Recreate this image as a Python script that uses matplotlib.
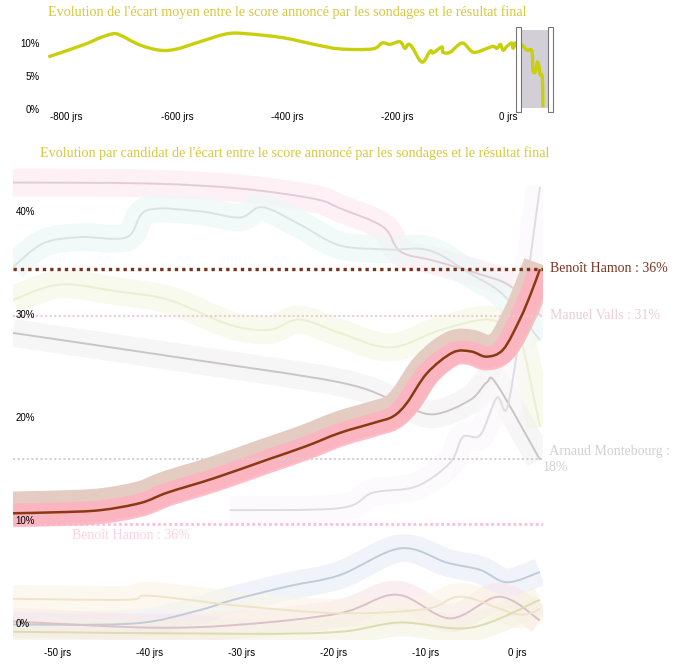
import numpy as np
import matplotlib
matplotlib.use("Agg")
import matplotlib.pyplot as plt
from matplotlib.path import Path
from matplotlib.patches import PathPatch

W, H = 680, 665

# ---- top chart : mean gap (%) vs days before the vote
top_days = [-833, -770, -739, -716, -703, -667, -630, -600, -558, -509, -473, -408, -346,
            -304, -246, -228, -214, -196, -187, -181, -174, -156, -141, -136, -120, -118,
            -105, -83, -63, -38, -27, -20, -14, -9, -2, 7, 9, 13, 18, 25, 34, 43, 45, 49,
            53, 56, 58, 62, 63]
top_gap = [7.9, 9.7, 10.8, 11.4, 11.2, 9.7, 8.9, 9.1, 10.2, 11.4, 11.4, 10.8, 9.7,
           9.1, 9.1, 10.0, 9.8, 10.2, 9.2, 9.8, 9.4, 7.1, 8.8, 8.5, 9.4, 8.6,
           8.6, 10.0, 8.6, 9.2, 9.5, 9.2, 9.8, 8.9, 9.5, 10.0, 9.2, 10.0, 9.4, 9.7, 8.9, 8.8, 5.9, 5.6,
           7.1, 6.4, 5.2, 4.8, 0.3]
top_xticks = [-800, -600, -400, -200, 0]
top_yticks = [0, 5, 10]
brush = (24, 74)

# ---- bottom chart : score per candidate
hamon_d = [-54.9, -50, -45.4, -41, -38.1, -33, -27.2, -23, -19.3, -15.5, -13.5, -12.0, -9.8, -7.0,
           -5, -3.3, -1.5, 0.3, 1.5, 2.5]
hamon_v = [12.3, 12.4, 12.6, 13.3, 14.3, 15.7, 17.5, 18.8, 20.1, 21.1, 21.7, 23.0, 25.9, 27.9,
           28.0, 27.5, 28.2, 31.1, 33.6, 36.0]

valls_d = [-54.9, -40, -30, -22, -19.3, -14.6, -12.7, -9, -3.3, -1, 1.1, 2.5]
valls_v = [44.4, 44.3, 43.8, 42.8, 41.9, 40.1, 37.7, 36.8, 35.3, 34.5, 33.0, 31.5]

monte_d = [-54.9, -36.7, -19.3, -13.1, -9.2, -5.1, -3.3, -2.2, 2.5]
monte_v = [29.8, 27.4, 25.0, 23.1, 21.9, 23.3, 25.0, 24.8, 17.5]

teal_d = [-54.9, -51.6, -47.6, -42.5, -40.3, -34.5, -30.2, -27.7, -23.6, -19.3, -14, -9.5, -5, -1.5, 2.5]
teal_v = [36.2, 38.5, 39.1, 39.1, 41.7, 41.6, 41.0, 42.0, 40.3, 38.3, 37.9, 37.8, 35.5, 33.5, 29.1]

green_d = [-54.9, -49.8, -43.3, -37.9, -31.3, -27.0, -23.7, -19.3, -13.8, -8.3, -3.3, -0.4, 0.3, 2.5]
green_v = [33.0, 34.5, 33.8, 33.0, 30.6, 30.1, 31.1, 29.8, 28.4, 30.1, 31.1, 30.1, 29.8, 20.7]

grey_d = [-31.3, -19.3, -15.7, -11.0, -7.3, -5.9, -4.0, -2.2, -1.1, 0.3, 2.5]
grey_v = [12.6, 12.8, 14.3, 14.9, 17.2, 19.7, 19.9, 23.5, 22.5, 29.8, 44.0]

blue_d = [-54.9, -41.8, -35, -30.9, -25, -19.3, -12.7, -7.6, -4.0, -1.1, 2.5]
blue_v = [1.5, 1.6, 2.8, 3.9, 5.2, 6.3, 8.9, 7.5, 6.8, 5.6, 6.6]

mauve_d = [-54.9, -40, -30, -19.3, -13.1, -7.3, -1.9, 2.5]
mauve_v = [1.8, 1.2, 1.5, 2.6, 4.4, 2.1, 4.2, 1.9]

tan_d = [-54.9, -42.5, -40, -30, -19.3, -10, -6, 0, 2.5]
tan_v = [4.0, 3.9, 4.3, 3.3, 2.6, 3.0, 4.2, 2.5, 3.0]

olive_d = [-54.9, -30, -19.3, -12.7, -5, 2.5]
olive_v = [0.8, 0.6, 0.8, 1.7, 1.2, 3.9]

bot_xticks = [-50, -40, -30, -20, -10, 0]
bot_yticks = [0, 10, 20, 30, 40]

final_names = ["Benoît Hamon : 36%", "Manuel Valls : 31%", "Arnaud Montebourg :\n18%"]
final_vals = [36.03, 31.48, 17.52]
final_cols = ["#7a3320", "#ecccd6", "#d4d0d2"]


def box(x0, y0, x1, y1):
    return [x0 / W, 1 - y1 / H, (x1 - x0) / W, (y1 - y0) / H]


def smooth(x, y):
    # catmull-rom through the points, drawn as bezier segments
    x = np.asarray(x, float)
    y = np.asarray(y, float)
    n = len(x)
    verts = [(x[0], y[0])]
    codes = [Path.MOVETO]
    for i in range(n - 1):
        j0 = max(i - 1, 0)
        j3 = min(i + 2, n - 1)
        c1 = (x[i] + (x[i + 1] - x[j0]) / 6, y[i] + (y[i + 1] - y[j0]) / 6)
        c2 = (x[i + 1] - (x[j3] - x[i]) / 6, y[i + 1] - (y[j3] - y[i]) / 6)
        verts += [c1, c2, (x[i + 1], y[i + 1])]
        codes += [Path.CURVE4] * 3
    return Path(verts, codes)


def curve(ax, x, y, color, lw, alpha=1.0, z=2):
    ax.add_patch(PathPatch(smooth(x, y), fill=False, edgecolor=color, lw=lw, alpha=alpha,
                           capstyle="butt", joinstyle="round", zorder=z))


fig = plt.figure(figsize=(W / 100, H / 100), dpi=100)
serif = ["Liberation Serif", "DejaVu Serif"]
sans = ["Liberation Sans", "DejaVu Sans"]

# ================= top chart
ax1 = fig.add_axes(box(40, 24, 560, 112))
curve(ax1, top_days, top_gap, "#c8d00c", 2.4, z=3)
ax1.add_patch(plt.Rectangle((brush[0], 0.15), brush[1] - brush[0], 11.8,
                            facecolor="#d2cfd6", edgecolor="none", zorder=1))
for hx in (14.5, brush[1] - 2):
    ax1.add_patch(plt.Rectangle((hx, -0.4), 9.5, 12.9, facecolor="white",
                                edgecolor="#777777", lw=0.8, zorder=4, clip_on=False))
ax1.set_xlim(-848, 94)
ax1.set_ylim(-0.45, 12.88)
ax1.set_xticks(top_xticks)
ax1.set_xticklabels([f"{t} jrs" for t in top_xticks], family=sans, fontsize=7)
ax1.set_yticks(top_yticks)
ax1.set_yticklabels([f"{t}%" for t in top_yticks], family=sans, fontsize=7)
ax1.tick_params(length=0, pad=0)
for s in ax1.spines.values():
    s.set_visible(False)
fig.text(48 / W, 1 - 12 / H, "Evolution de l'écart moyen entre le score annoncé par les sondages et le résultat final",
         family=serif, fontsize=10.2, color="#d6c83c", va="center", ha="left")

# ================= bottom chart
ax2 = fig.add_axes(box(13, 165, 543, 640))
ax2.set_xlim(-54.9, 2.83)
ax2.set_ylim(0, 46.1)

# faded candidates : (days, values, line colour, band colour)
others = [
    (valls_d, valls_v, "#e4ccd6", "#fde8f0"),
    (teal_d, teal_v, "#dce2e2", "#eaf8f6"),
    (green_d, green_v, "#eaf0d0", "#f3f8e0"),
    (monte_d, monte_v, "#cac6c8", "#f3f1f1"),
    (grey_d, grey_v, "#e0dce0", "#fbf8fb"),
    (blue_d, blue_v, "#c2cbd8", "#e6eef7"),
    (mauve_d, mauve_v, "#dcc0ca", "#f8e4e8"),
    (tan_d, tan_v, "#f0e4c8", "#fbf4e6"),
    (olive_d, olive_v, "#dcdcb0", "#f4f2e0"),
]
for d, v, lc, bc in others:
    curve(ax2, d, v, bc, 20, alpha=0.6, z=1)
for d, v, lc, bc in others:
    curve(ax2, d, v, lc, 1.4, z=2)

# ghost pink dotted line and label left over from the transition
ax2.axhline(11.3, color="#ffbcd8", lw=2, ls=(0, (1, 1)), zorder=1)
ax2.text(-48.5, 10.1, "Benoît Hamon : 36%", family=serif, fontsize=10, color="#ffd0e2", va="center")

# highlighted candidate
curve(ax2, hamon_d, np.array(hamon_v) + 0.5, "#e4ccc2", 24, z=3)
curve(ax2, hamon_d, np.array(hamon_v) - 0.2, "#ffb2c0", 17, alpha=0.85, z=3)
curve(ax2, hamon_d, hamon_v, "#8a3a12", 1.8, z=5)

# final results
for name, val, col, lw in zip(final_names, final_vals, final_cols, [2.4, 1.5, 1.5]):
    ax2.axhline(val, color=col, lw=lw, ls=(0, (1, 1.2)), zorder=4)
    ax2.text(1.0, val, "  " + name, transform=ax2.get_yaxis_transform(), family=serif,
             fontsize=10, color=col, va="center", ha="left", clip_on=False, linespacing=1.25)

ax2.set_xticks(bot_xticks)
ax2.set_xticklabels([f"{t} jrs" for t in bot_xticks], family=sans, fontsize=7)
ax2.set_yticks([])
ax2.tick_params(length=0, pad=6)
for t in bot_yticks:
    ax2.annotate(f"{t}%", xy=(0, t), xycoords=("axes fraction", "data"), xytext=(2, 11.5),
                 textcoords="offset points", family=sans, fontsize=7, va="center", ha="left", zorder=6)
for s in ax2.spines.values():
    s.set_visible(False)
fig.text(40 / W, 1 - 153 / H,
         "Evolution par candidat de l'écart entre le score annoncé par les sondages et le résultat final",
         family=serif, fontsize=10.2, color="#d6c83c", va="center", ha="left")

fig.savefig("out.png", dpi=100)
